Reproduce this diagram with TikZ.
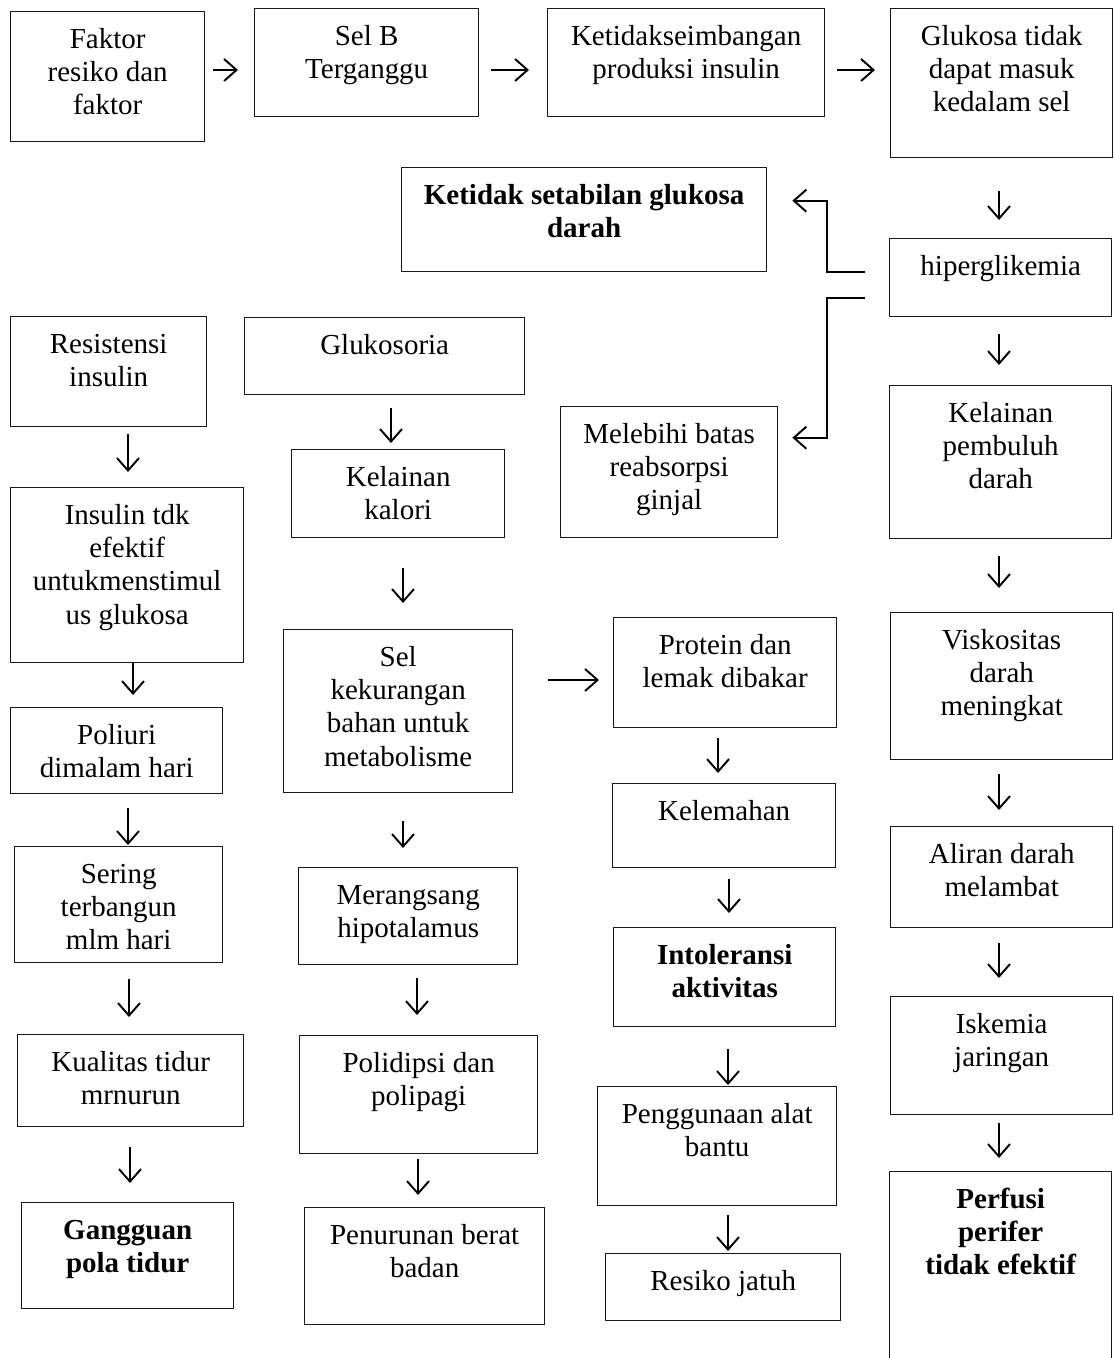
\documentclass[tikz,border=0pt]{standalone}
\usepackage{fontspec}
\setmainfont{Liberation Serif}
\usetikzlibrary{arrows.meta}
\definecolor{ink}{RGB}{25,25,25}
\tikzset{
	stage/.style={draw=ink,line width=0.8pt,anchor=north west,inner sep=0pt,
		align=flush center,text height=0.73cm,text=black,
		font=\fontsize{16.5}{19}\selectfont},
	outcome/.style={stage,font=\fontsize{16.5}{19}\selectfont\bfseries},
	flow/.style={-{Straight Barb[length=2.5mm,width=4.4mm]},line width=1.1pt,draw=black},
}
\begin{document}
\begin{tikzpicture}[x=0.02cm,y=-0.02cm]
	\useasboundingbox (0,0) rectangle (1114,1358);
	
	% top row
	\node[stage,text width=3.88cm,text depth=1.87cm] (faktor) at (10,11)
	{Faktor\\resiko dan\\faktor};
	\node[stage,text width=4.48cm,text depth=1.43cm] (selb) at (254,8)
	{Sel B\\Terganggu};
	\node[stage,text width=5.54cm,text depth=1.43cm] (ketidak) at (547,8)
	{Ketidakseimbangan\\produksi insulin};
	\node[stage,text width=4.44cm,text depth=2.25cm] (glukosa) at (890,8)
	{Glukosa tidak\\dapat masuk\\kedalam sel};
	\draw[flow,shorten <=0.16cm,shorten >=0.32cm] (faktor.east |- 0,70) -- (selb.west |- 0,70);
	\draw[flow,shorten <=0.24cm,shorten >=0.36cm] (selb.east |- 0,70) -- (ketidak.west |- 0,70);
	\draw[flow,shorten <=0.24cm,shorten >=0.30cm] (ketidak.east |- 0,70) -- (glukosa.west |- 0,70);
	
	% right column
	\node[outcome,text width=7.30cm,text depth=1.35cm] (ketstab) at (401,167)
	{Ketidak setabilan glukosa\\darah};
	\node[stage,text width=4.44cm,text depth=0.83cm] (hiper) at (889,238)
	{hiperglikemia};
	\node[stage,text width=4.34cm,text depth=1.89cm] (melebihi) at (560,406)
	{Melebihi batas\\reabsorpsi\\ginjal};
	\node[stage,text width=4.44cm,text depth=2.33cm] (pembuluh) at (889,385)
	{Kelainan\\pembuluh\\darah};
	\node[stage,text width=4.44cm,text depth=2.21cm] (visko) at (890,612)
	{Viskositas\\darah\\meningkat};
	\node[stage,text width=4.44cm,text depth=1.29cm] (aliran) at (890,826)
	{Aliran darah\\melambat};
	\node[stage,text width=4.44cm,text depth=1.63cm] (iskemia) at (890,996)
	{Iskemia\\jaringan};
	\node[outcome,text width=4.44cm,text depth=3.85cm] (perfusi) at (889,1171)
	{Perfusi\\perifer\\tidak efektif};
	\draw[flow,shorten >=0.5cm] ([xshift=-0.48cm,yshift=0.12cm]hiper.west)
	-- ++(-0.76cm,0) |- ([yshift=0.38cm]ketstab.east);
	\draw[flow,shorten >=0.28cm] ([xshift=-0.48cm,yshift=-0.4cm]hiper.west)
	-- ++(-0.76cm,0) |- ([yshift=0.69cm]melebihi.east);
	\draw[flow,shorten <=0.66cm,shorten >=0.36cm] (glukosa.south -| 999,0) -- (hiper.north -| 999,0);
	\draw[flow,shorten <=0.34cm,shorten >=0.40cm] (hiper.south -| 999,0) -- (pembuluh.north -| 999,0);
	\draw[flow,shorten <=0.34cm,shorten >=0.48cm] (pembuluh.south -| 999,0) -- (visko.north -| 999,0);
	\draw[flow,shorten <=0.28cm,shorten >=0.32cm] (visko.south -| 999,0) -- (aliran.north -| 999,0);
	\draw[flow,shorten <=0.30cm,shorten >=0.36cm] (aliran.south -| 999,0) -- (iskemia.north -| 999,0);
	\draw[flow,shorten <=0.16cm,shorten >=0.26cm] (iskemia.south -| 999,0) -- (perfusi.north -| 999,0);
	
	% left column
	\node[stage,text width=3.92cm,text depth=1.47cm] (resist) at (10,316)
	{Resistensi\\insulin};
	\node[stage,text width=4.66cm,text depth=2.77cm] (insulin) at (10,487)
	{Insulin tdk\\efektif\\untukmenstimul\\us glukosa};
	\node[stage,text width=4.24cm,text depth=0.99cm] (poliuri) at (10,707)
	{Poliuri\\dimalam hari};
	\node[stage,text width=4.16cm,text depth=1.59cm] (sering) at (14,846)
	{Sering\\terbangun\\mlm hari};
	\node[stage,text width=4.52cm,text depth=1.11cm] (kualitas) at (17,1034)
	{Kualitas tidur\\mrnurun};
	\node[outcome,text width=4.24cm,text depth=1.39cm] (gangguan) at (21,1202)
	{Gangguan\\pola tidur};
	\draw[flow,shorten <=0.14cm,shorten >=0.30cm] (resist.south -| 128,0) -- (insulin.north -| 128,0);
	\draw[flow,shorten >=0.24cm] (insulin.south -| 133,0) -- (poliuri.north -| 133,0);
	\draw[flow,shorten <=0.28cm,shorten >=0.02cm] (poliuri.south -| 128,0) -- (sering.north -| 128,0);
	\draw[flow,shorten <=0.32cm,shorten >=0.34cm] (sering.south -| 129,0) -- (kualitas.north -| 129,0);
	\draw[flow,shorten <=0.40cm,shorten >=0.38cm] (kualitas.south -| 130,0) -- (gangguan.north -| 130,0);
	
	% middle column
	\node[stage,text width=5.60cm,text depth=0.81cm] (glukosoria) at (244,317)
	{Glukosoria};
	\node[stage,text width=4.26cm,text depth=1.03cm] (kalori) at (291,449)
	{Kelainan\\kalori};
	\node[stage,text width=4.58cm,text depth=2.53cm] (selkurang) at (283,629)
	{Sel\\kekurangan\\bahan untuk\\metabolisme};
	\node[stage,text width=4.38cm,text depth=1.21cm] (merangsang) at (298,867)
	{Merangsang\\hipotalamus};
	\node[stage,text width=4.76cm,text depth=1.63cm] (polidipsi) at (299,1035)
	{Polidipsi dan\\polipagi};
	\node[stage,text width=4.80cm,text depth=1.61cm] (penurunan) at (304,1207)
	{Penurunan berat\\badan};
	\draw[flow,shorten <=0.26cm,shorten >=0.12cm] (glukosoria.south -| 391,0) -- (kalori.north -| 391,0);
	\draw[flow,shorten <=0.60cm,shorten >=0.52cm] (kalori.south -| 403,0) -- (selkurang.north -| 403,0);
	\draw[flow,shorten <=0.56cm,shorten >=0.38cm] (selkurang.south -| 403,0) -- (merangsang.north -| 403,0);
	\draw[flow,shorten <=0.26cm,shorten >=0.40cm] (merangsang.south -| 417,0) -- (polidipsi.north -| 417,0);
	\draw[flow,shorten <=0.10cm,shorten >=0.24cm] (polidipsi.south -| 418,0) -- (penurunan.north -| 418,0);
	
	% third column
	\node[stage,text width=4.46cm,text depth=1.47cm] (protein) at (613,617)
	{Protein dan\\lemak dibakar};
	\node[stage,text width=4.46cm,text depth=0.95cm] (kelemahan) at (612,783)
	{Kelemahan};
	\node[outcome,text width=4.44cm,text depth=1.25cm] (intoleransi) at (613,927)
	{Intoleransi\\aktivitas};
	\node[stage,text width=4.78cm,text depth=1.65cm] (alatbantu) at (597,1086)
	{Penggunaan alat\\bantu};
	\node[stage,text width=4.70cm,text depth=0.61cm] (jatuh) at (605,1253)
	{Resiko jatuh};
	\draw[flow,shorten <=0.70cm,shorten >=0.28cm] (selkurang.east |- 0,680) -- (protein.west |- 0,680);
	\draw[flow,shorten <=0.20cm,shorten >=0.20cm] (protein.south -| 718,0) -- (kelemahan.north -| 718,0);
	\draw[flow,shorten <=0.22cm,shorten >=0.28cm] (kelemahan.south -| 729,0) -- (intoleransi.north -| 729,0);
	\draw[flow,shorten <=0.44cm,shorten >=0.02cm] (intoleransi.south -| 728,0) -- (alatbantu.north -| 728,0);
	\draw[flow,shorten <=0.18cm,shorten >=0.04cm] (alatbantu.south -| 728,0) -- (jatuh.north -| 728,0);
\end{tikzpicture}
\end{document}
